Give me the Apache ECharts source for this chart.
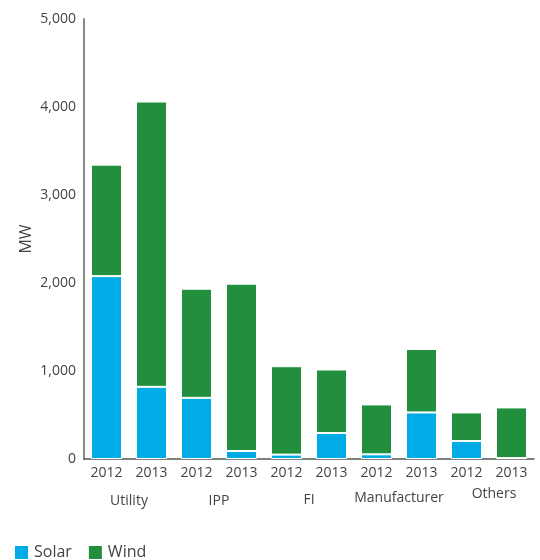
<!DOCTYPE html>
<html>
<head>
<meta charset="utf-8">
<script src="https://cdn.jsdelivr.net/npm/echarts@6/dist/echarts.min.js"></script>
<style>
html,body{margin:0;padding:0;background:#fff;}
#chart{width:540px;height:560px;}
</style>
</head>
<body>
<div id="chart"></div>
<script>
const years = ['2012','2013','2012','2013','2012','2013','2012','2013','2012','2013'];
const groups = ['Utility','IPP','FI','Manufacturer','Others'];
const solar = [2078, 820, 695, 91, 50, 295, 53, 529, 204, 10];
const wind  = [1267, 3242, 1240, 1901, 1004, 722, 567, 721, 325, 576];
const yTicks = [0, 1000, 2000, 3000, 4000, 5000];

const font = '"Open Sans", "Noto Sans", sans-serif';
const txt = '#444';
const groupPad = [[7,0,0,0],[7,0,0,0],[6,0,0,0],[4,0,0,0],[0,0,0,10]];

const chart = echarts.init(document.getElementById('chart'));
chart.setOption({
  animation: false,
  textStyle: {fontFamily: font},
  grid: {left: 84, right: 6, top: 19, bottom: 101, containLabel: false},
  legend: {
    left: 13, top: 544, padding: 0, itemWidth: 15, itemHeight: 15, itemGap: 15,
    icon: 'rect',
    textStyle: {fontSize: 16, color: txt, fontFamily: font},
    data: ['Solar','Wind']
  },
  xAxis: [{
    type: 'category',
    data: years.map((y, i) => y + '_' + i),
    axisLine: {lineStyle: {color: '#555', width: 1.5}},
    axisTick: {show: false},
    axisLabel: {color: txt, fontSize: 14, margin: 7, interval: 0, formatter: v => v.split('_')[0]}
  }, {
    type: 'category',
    position: 'bottom',
    data: groups.map((g, i) => ({value: g, textStyle: {padding: groupPad[i]}})),
    axisLine: {show: false},
    axisTick: {show: false},
    axisLabel: {color: txt, fontSize: 14, margin: 28, interval: 0}
  }],
  yAxis: {
    type: 'value',
    min: yTicks[0], max: yTicks[yTicks.length - 1], interval: 1000,
    name: 'MW',
    nameLocation: 'middle',
    nameMoveOverlap: false,
    nameGap: 50,
    nameTextStyle: {color: txt, fontSize: 16},
    axisLine: {show: true, lineStyle: {color: '#8a8a8a', width: 2}},
    axisTick: {show: false},
    splitLine: {show: false},
    axisLabel: {color: txt, fontSize: 14, margin: 8, formatter: v => v.toLocaleString('en-US')}
  },
  series: [{
    name: 'Solar', type: 'bar', stack: 'total', xAxisIndex: 0,
    data: solar, barWidth: 31,
    itemStyle: {color: '#00ABE6', borderColor: '#fff', borderWidth: 1}
  }, {
    name: 'Wind', type: 'bar', stack: 'total', xAxisIndex: 0,
    data: wind, barWidth: 31,
    itemStyle: {color: '#218F3E', borderColor: '#fff', borderWidth: 1}
  }]
});
</script>
</body>
</html>
